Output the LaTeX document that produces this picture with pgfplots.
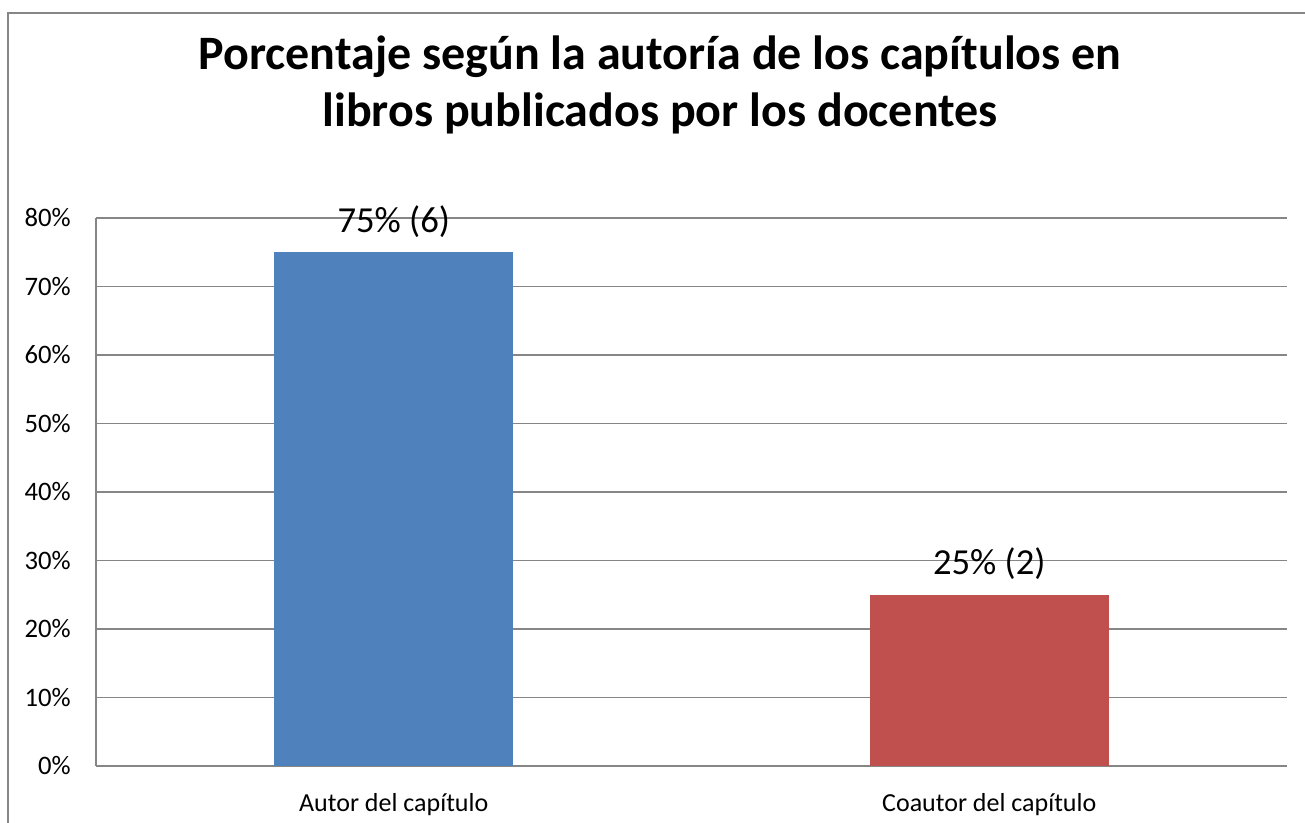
\documentclass[border=0pt]{standalone}
\usepackage{pgfplots}
\pgfplotsset{compat=1.18}
\usepackage{fontspec}
\setmainfont{Carlito}
\definecolor{barblue}{HTML}{4F81BD}
\definecolor{barred}{HTML}{C0504D}
\definecolor{gridgray}{HTML}{868686}
\begin{document}
\begin{tikzpicture}
\useasboundingbox (0pt,0pt) rectangle (978.75pt,617.25pt);
\draw[gridgray, line width=1.5pt] (6pt,-2pt) -- (6pt,607.5pt) -- (982pt,607.5pt);
\node[anchor=base, inner sep=0pt, font=\bfseries\fontsize{36}{43}\selectfont] at (495pt,564.75pt) {Porcentaje según la autoría de los capítulos en};
\node[anchor=base, inner sep=0pt, font=\bfseries\fontsize{36}{43}\selectfont] at (495pt,522pt) {libros publicados por los docentes};
\begin{axis}[
  at={(72pt,42.75pt)}, anchor=south west,
  scale only axis, width=893.25pt, height=411pt,
  xmin=-0.5, xmax=1.5, ymin=0, ymax=80,
  ytick={0,10,20,30,40,50,60,70,80},
  yticklabels={0\%,10\%,20\%,30\%,40\%,50\%,60\%,70\%,80\%},
  xtick={0,1},
  xticklabels={Autor del capítulo, Coautor del capítulo},
  ymajorgrids, grid style={gridgray, line width=1.1pt},
  axis x line*=bottom, axis y line*=left,
  axis line style={gridgray, line width=1.5pt, -},
  major tick length=0pt,
  tick style={draw=none},
  yticklabel style={font=\fontsize{20}{24}\selectfont, inner sep=0pt, anchor=east, xshift=-18.75pt},
  xticklabel style={font=\fontsize{19.5}{24}\selectfont, inner sep=0pt, anchor=base, yshift=-34.5pt},
  ybar, bar width=179.25pt, bar shift=0pt,
  point meta=explicit symbolic,
  nodes near coords,
  every node near coord/.append style={font=\fontsize{27.5}{32}\selectfont, anchor=base, inner sep=0pt, yshift=15pt, text=black},
  clip=false,
]
\addplot[draw=none, fill=barblue] coordinates {(0,75) [75\% (6)]};
\addplot[draw=none, fill=barred] coordinates {(1,25) [25\% (2)]};
\end{axis}
\end{tikzpicture}
\end{document}
